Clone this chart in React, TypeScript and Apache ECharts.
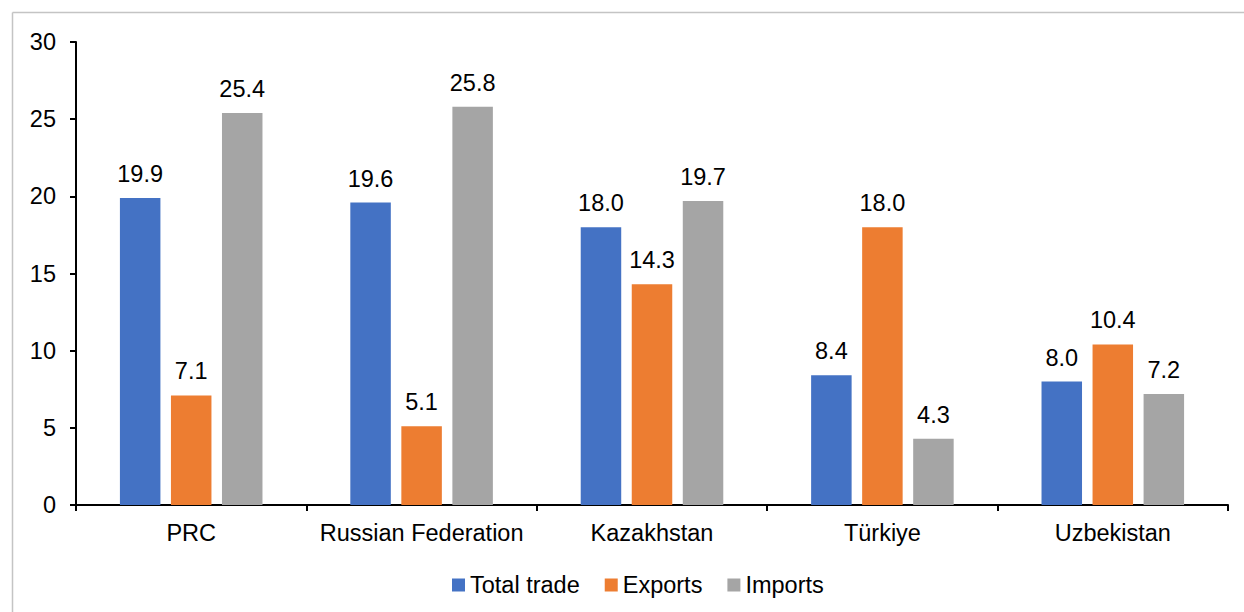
import React, { useEffect, useRef } from "react";
import * as echarts from "echarts";

const categories = ["PRC", "Russian Federation", "Kazakhstan", "Türkiye", "Uzbekistan"];
const seriesNames = ["Total trade", "Exports", "Imports"];
const totalTrade = [19.9, 19.6, 18.0, 8.4, 8.0];
const exportsData = [7.1, 5.1, 14.3, 18.0, 10.4];
const importsData = [25.4, 25.8, 19.7, 4.3, 7.2];
const colors = ["#4472C4", "#ED7D31", "#A5A5A5"];

const FONT = "'Liberation Sans', Arial, sans-serif";
const FS = 23.5;

export default function App() {
  const ref = useRef<HTMLDivElement>(null);
  useEffect(() => {
    if (!ref.current) return;
    const chart = echarts.init(ref.current, null, { renderer: "svg" });
    const values = [totalTrade, exportsData, importsData];
    chart.setOption({
      animation: false,
      backgroundColor: "#ffffff",
      textStyle: { fontFamily: FONT },
      graphic: [
        {
          type: "line",
          shape: { x1: 12.5, y1: 12.5, x2: 1244, y2: 12.5 },
          style: { stroke: "#c4c4c4", lineWidth: 1.5 },
          silent: true,
        },
        {
          type: "line",
          shape: { x1: 12.5, y1: 12.5, x2: 12.5, y2: 612 },
          style: { stroke: "#c4c4c4", lineWidth: 1.5 },
          silent: true,
        },
      ],
      grid: { left: 76, right: 16, top: 42, bottom: 107, containLabel: false },
      legend: {
        data: seriesNames,
        left: 447,
        top: 568,
        itemWidth: 13,
        itemHeight: 13,
        itemGap: 25,
        icon: "rect",
        textStyle: { fontFamily: FONT, fontSize: FS, color: "#000" },
      },
      xAxis: {
        type: "category",
        data: categories,
        boundaryGap: true,
        axisLine: { lineStyle: { color: "#000", width: 2 } },
        axisTick: { show: true, length: 6, lineStyle: { color: "#000", width: 2 } },
        axisLabel: { color: "#000", fontFamily: FONT, fontSize: FS, margin: 16, interval: 0 },
        splitLine: { show: false },
      },
      yAxis: {
        type: "value",
        min: 0,
        max: 30,
        interval: 5,
        axisLine: { show: true, lineStyle: { color: "#000", width: 2 } },
        axisTick: { show: true, length: 6, lineStyle: { color: "#000", width: 2 } },
        axisLabel: { color: "#000", fontFamily: FONT, fontSize: FS, margin: 20 },
        splitLine: { show: false },
      },
      series: seriesNames.map((name, i) => ({
        name,
        type: "bar",
        data: values[i],
        barWidth: 40.5,
        barGap: "26%",
        itemStyle: { color: colors[i] },
        label: {
          show: true,
          position: "top",
          distance: 12,
          color: "#000",
          fontFamily: FONT,
          fontSize: FS,
          formatter: (p: any) => Number(p.value).toFixed(1),
        },
      })),
    });
    return () => chart.dispose();
  }, []);
  return (
    <div
      ref={ref}
      style={{ position: "fixed", left: 0, top: 0, width: 1244, height: 612, background: "#fff" }}
    />
  );
}
